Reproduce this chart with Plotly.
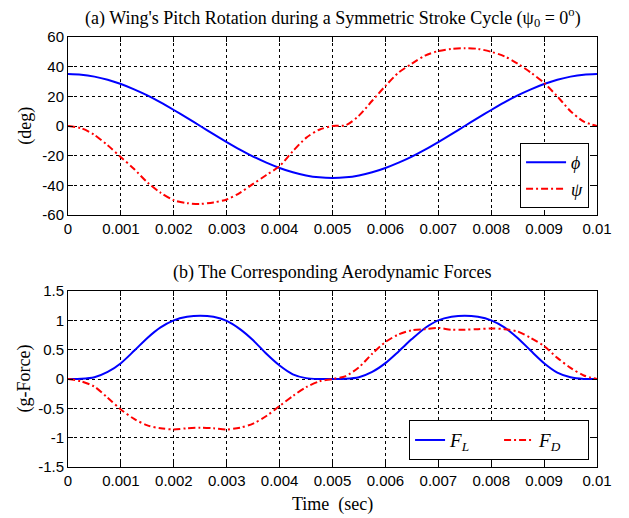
import plotly.graph_objects as go

# Time samples (s), one period of the stroke cycle
t = [round(i * 0.00025, 5) for i in range(41)]

# Stroke angle phi (deg)
phi = [35, 34.6, 33.3, 31.2, 28.3, 24.7, 20.6, 15.9, 10.8, 5.5,
       0, -5.5, -10.8, -15.9, -20.6, -24.7, -28.3, -31.2, -33.3, -34.6,
       -35, -34.6, -33.3, -31.2, -28.3, -24.7, -20.6, -15.9, -10.8, -5.5,
       0, 5.5, 10.8, 15.9, 20.6, 24.7, 28.3, 31.2, 33.3, 34.6, 35]

# Pitch angle psi (deg)
psi = [0, -1.5, -6, -13, -21, -29, -38, -45, -50, -52, -52.5, -51.5,
       -49.5, -45, -39, -33, -27, -17, -8, -2.5, 0,
       0.5, 7, 17, 27, 36, 42, 47.5, 50.5, 52, 52.5, 52, 50, 47, 42,
       36, 29, 20, 10, 3, 0]

# Lift force F_L (g)
f_lift = [0, 0.003, 0.03, 0.12, 0.27, 0.48, 0.70, 0.88, 1.0, 1.06, 1.08,
          1.06, 0.99, 0.85, 0.66, 0.43, 0.23, 0.08, 0.015, 0.0, 0,
          0.003, 0.03, 0.12, 0.27, 0.47, 0.68, 0.87, 1.0, 1.06, 1.08,
          1.06, 1.0, 0.88, 0.70, 0.48, 0.27, 0.11, 0.03, 0.002, 0]

# Drag force F_D (g)
f_drag = [0, -0.04, -0.13, -0.32, -0.52, -0.68, -0.79, -0.84, -0.86, -0.84,
          -0.83, -0.84, -0.86, -0.83, -0.76, -0.63, -0.46, -0.29, -0.14, -0.04, 0,
          0.05, 0.2, 0.43, 0.63, 0.76, 0.83, 0.85, 0.87, 0.84, 0.84,
          0.85, 0.86, 0.85, 0.81, 0.70, 0.56, 0.36, 0.19, 0.06, 0]

x_ticks = [0, 0.001, 0.002, 0.003, 0.004, 0.005, 0.006, 0.007, 0.008, 0.009, 0.01]
x_labels = ["0", "0.001", "0.002", "0.003", "0.004", "0.005", "0.006",
            "0.007", "0.008", "0.009", "0.01"]
y1_ticks = [-60, -40, -20, 0, 20, 40, 60]
y1_labels = ["-60", "-40", "-20", "0", "20", "40", "60"]
y2_ticks = [-1.5, -1, -0.5, 0, 0.5, 1, 1.5]
y2_labels = ["-1.5", "-1", "-0.5", "0", "0.5", "1", "1.5"]

BLUE = "#0000ff"
RED = "#ff0000"
DASHDOT = "7px,3px,2px,3px"
SERIF = "Liberation Serif"
SANS = "Liberation Sans"

fig = go.Figure()

fig.add_trace(go.Scatter(x=t, y=phi, mode="lines", name="<i>ϕ</i>",
                         line=dict(color=BLUE, width=2, shape="spline", smoothing=0.8),
                         xaxis="x", yaxis="y", legend="legend"))
fig.add_trace(go.Scatter(x=t, y=psi, mode="lines", name="<i>ψ</i>",
                         line=dict(color=RED, width=2, dash=DASHDOT, shape="spline", smoothing=0.8),
                         xaxis="x", yaxis="y", legend="legend"))
fig.add_trace(go.Scatter(x=t, y=f_lift, mode="lines", name="<i>F</i><sub><i>L</i></sub>",
                         line=dict(color=BLUE, width=2, shape="spline", smoothing=0.8),
                         xaxis="x2", yaxis="y2", legend="legend2"))
fig.add_trace(go.Scatter(x=t, y=f_drag, mode="lines", name="<i>F</i><sub><i>D</i></sub>",
                         line=dict(color=RED, width=2, dash=DASHDOT, shape="spline", smoothing=0.8),
                         xaxis="x2", yaxis="y2", legend="legend2"))

axis_common = dict(
    showline=True, linecolor="black", linewidth=1, mirror="ticks",
    ticks="inside", ticklen=5, tickcolor="black", tickwidth=1,
    showgrid=True, gridcolor="black", gridwidth=1, griddash="3px,3px",
    zeroline=False, tickfont=dict(family=SANS, size=15, color="black"),
)

fig.update_layout(
    width=629, height=518,
    margin=dict(l=68, r=32, t=37, b=51),
    paper_bgcolor="white", plot_bgcolor="white",
    xaxis=dict(domain=[0, 1], range=[0, 0.01], tickvals=x_ticks, ticktext=x_labels,
               anchor="y", **axis_common),
    yaxis=dict(domain=[0.586, 1], range=[-60, 60], tickvals=y1_ticks, ticktext=y1_labels,
               anchor="x", **axis_common),
    xaxis2=dict(domain=[0, 1], range=[0, 0.01], tickvals=x_ticks, ticktext=x_labels,
                anchor="y2", **axis_common),
    yaxis2=dict(domain=[0, 0.4093], range=[-1.5, 1.5], tickvals=y2_ticks, ticktext=y2_labels,
                anchor="x2", **axis_common),
    legend=dict(x=0.985, y=0.602, xanchor="right", yanchor="bottom",
                bgcolor="white", bordercolor="black", borderwidth=1,
                font=dict(family=SERIF, size=18, color="black"),
                itemwidth=40, tracegroupgap=0),
    legend2=dict(x=0.985, y=0.016, xanchor="right", yanchor="bottom",
                 orientation="h", entrywidth=44,
                 bgcolor="white", bordercolor="black", borderwidth=1,
                 font=dict(family=SERIF, size=19, color="black")),
    showlegend=True,
)

title_font = dict(family=SERIF, size=18, color="black")
fig.add_annotation(text="(a) Wing's Pitch Rotation during a Symmetric Stroke Cycle "
                        "(ψ<sub>0</sub> = 0<sup>o</sup>)",
                   xref="paper", yref="paper", x=0.5, y=1.0, yshift=5,
                   xanchor="center", yanchor="bottom", showarrow=False, font=title_font)
fig.add_annotation(text="(b) The Corresponding Aerodynamic Forces",
                   xref="paper", yref="paper", x=0.5, y=0.4093, yshift=6,
                   xanchor="center", yanchor="bottom", showarrow=False, font=title_font)
fig.add_annotation(text="(deg)", xref="paper", yref="paper",
                   x=-0.082, y=0.793, textangle=-90, xanchor="center", yanchor="middle",
                   showarrow=False, font=title_font)
fig.add_annotation(text="(g-Force)", xref="paper", yref="paper",
                   x=-0.082, y=0.205, textangle=-90, xanchor="center", yanchor="middle",
                   showarrow=False, font=title_font)
fig.add_annotation(text="Time  (sec)", xref="paper", yref="paper",
                   x=0.5, y=0, yshift=-25, xanchor="center", yanchor="top",
                   showarrow=False, font=title_font)

fig.write_html("out.html")
